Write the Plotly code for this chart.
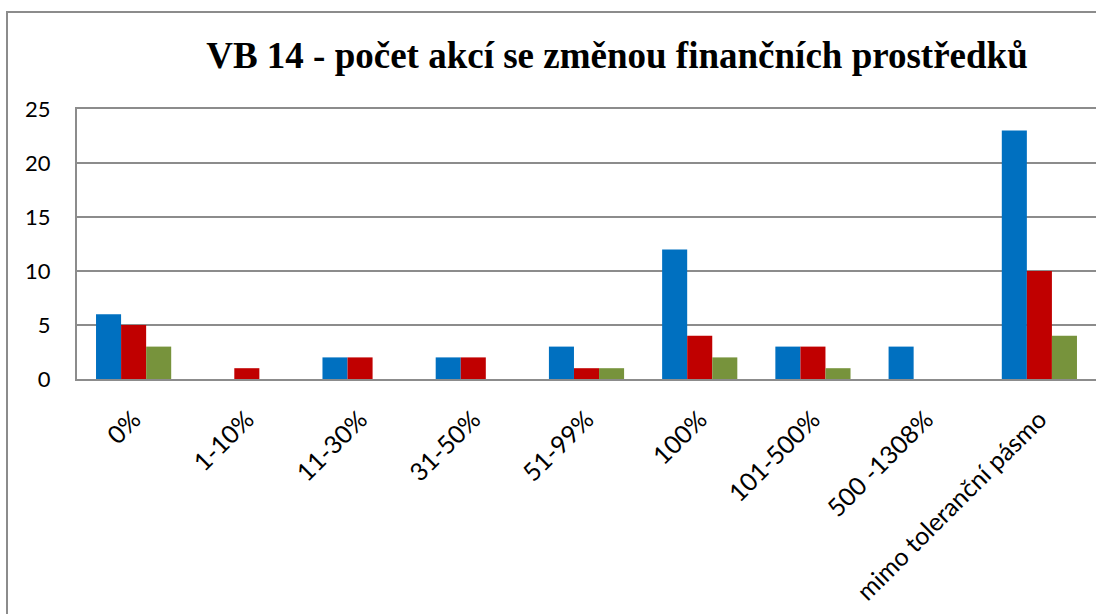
import plotly.graph_objects as go

categories = ["0%", "1-10%", "11-30%", "31-50%", "51-99%", "100%", "101-500%", "500 -1308%", "mimo toleranční pásmo"]
series_names = ["Řada 1", "Řada 2", "Řada 3"]
values_blue = [6, 0, 2, 2, 3, 12, 3, 3, 23]
values_red = [5, 1, 2, 2, 1, 4, 3, 0, 10]
values_green = [3, 0, 0, 0, 1, 2, 1, 0, 4]
colors = ["#0070C0", "#C00000", "#77933C"]
y_ticks = [0, 5, 10, 15, 20, 25]

W, H = 1096, 614
L, R, T, B = 77, 0, 109, 235

fig = go.Figure()
for name, vals, c in zip(series_names, [values_blue, values_red, values_green], colors):
    fig.add_trace(go.Bar(x=categories, y=vals, name=name,
                         marker=dict(color=c, line=dict(width=0))))

pw = W - L - R
ph = H - T - B
fig.update_layout(
    width=W, height=H,
    margin=dict(l=L, r=R, t=T, b=B, pad=0, autoexpand=False),
    paper_bgcolor="white", plot_bgcolor="white",
    barmode="group", bargap=0.336, bargroupgap=0,
    showlegend=False,
    title=dict(text="<b>VB 14 - počet akcí se změnou finančních prostředků</b>",
               font=dict(family="Liberation Serif", size=37, color="black"),
               x=(617 - L) / pw, xref="paper", xanchor="center",
               y=1 - 55 / H, yref="container", yanchor="middle"),
    font=dict(family="Lato", color="black"),
)
fig.update_xaxes(tickangle=-45, tickfont=dict(size=25, family="Lato"),
                 showline=True, linecolor="#8C8C8C", linewidth=2, mirror=True,
                 showgrid=False, ticks="", ticklabelstandoff=14, automargin=False)
fig.update_yaxes(range=[0, 25], tickvals=y_ticks, tickfont=dict(size=22, family="Lato"),
                 showgrid=True, gridcolor="#8C8C8C", gridwidth=2,
                 showline=True, linecolor="#8C8C8C", linewidth=2,
                 ticks="", ticklabelstandoff=20, zeroline=False, automargin=False)

# outer chart border (extends beyond the visible window)
fig.add_shape(type="rect", xref="paper", yref="paper",
              x0=(7 - L) / pw, x1=2, y0=-2, y1=(H - B - 12) / ph,
              line=dict(color="#8C8C8C", width=2), fillcolor="rgba(0,0,0,0)", layer="below")

fig.write_html("out.html", config={"displayModeBar": False},
               post_script="document.body.style.margin='0';document.body.style.overflow='hidden';")
